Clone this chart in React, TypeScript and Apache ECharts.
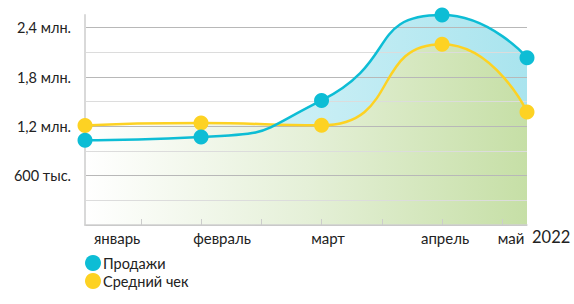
import React, { useEffect, useRef } from "react";
import * as echarts from "echarts";

const months = ["январь", "февраль", "март", "апрель", "май"];
const monthPos = [0.037, 1, 2, 3, 3.705];
const sales = [1030000, 1070000, 1515000, 2555000, 2035000];
const avgCheck = [1210000, 1240000, 1213000, 2200000, 1375000];
const xTickAt = [0.5, 1, 1.5, 2, 2.5, 3, 3.5];
const monthLabelAt = [0.303, 1.174, 2.054, 3.025, 3.572];
const yearLabel = "2022";
const seriesNames = ["Продажи", "Средний чек"];

const BLUE = "#0dbdd5";
const YELLOW = "#fdd223";
const FONT = "Lato, 'Noto Sans', sans-serif";
const SMOOTH = 0.6;

function yLabel(v: number): string {
  if (v <= 0 || Math.round(v) % 600000 !== 0) return "";
  if (v < 1000000) return Math.round(v / 1000) + " тыс.";
  return (v / 1000000).toFixed(1).replace(".", ",") + " млн.";
}

export default function App() {
  const ref = useRef<HTMLDivElement>(null);
  useEffect(() => {
    if (!ref.current) return;
    const chart = echarts.init(ref.current, null, { renderer: "svg" });
    const salesData = monthPos.map((x, i) => [x, sales[i]]);
    const avgData = monthPos.map((x, i) => [x, avgCheck[i]]);
    chart.setOption({
      animation: false,
      textStyle: { fontFamily: FONT },
      grid: { left: 85, right: 47, top: 15, bottom: 79, containLabel: false, outerBoundsMode: "none" },
      legend: {
        data: seriesNames,
        orient: "vertical",
        left: 80,
        top: 250,
        icon: "circle",
        itemWidth: 16,
        itemHeight: 16,
        itemGap: 2,
        textStyle: { fontSize: 14.5, color: "#222", fontFamily: FONT, padding: [0, 0, 0, -3] },
      },
      xAxis: {
        type: "value",
        min: monthPos[0],
        max: monthPos[monthPos.length - 1],
        name: yearLabel,
        nameLocation: "end",
        nameGap: 5,
        nameTextStyle: { fontSize: 16.5, color: "#222", verticalAlign: "top", padding: [3, 0, 0, 0], fontFamily: FONT },
        axisLine: { show: true, lineStyle: { color: "#cfcfcf", width: 1.5 } },
        axisTick: { show: true, inside: true, length: 6, customValues: xTickAt, lineStyle: { color: "#cccccc" } },
        axisLabel: {
          customValues: monthLabelAt,
          margin: 5,
          fontSize: 15,
          color: "#222",
          fontFamily: FONT,
          formatter: (v: number) => {
            const i = monthLabelAt.findIndex((p) => Math.abs(p - v) < 1e-6);
            return i >= 0 ? months[i] : "";
          },
        },
        splitLine: { show: false },
      },
      yAxis: {
        type: "value",
        min: 0,
        max: (e: any) => e.max,
        interval: 300000,
        axisLine: { show: true, lineStyle: { color: "#d9d9d9", width: 2 } },
        axisTick: { show: false },
        axisLabel: { margin: 14, fontSize: 14.5, color: "#222", fontFamily: FONT, formatter: yLabel, showMaxLabel: false },
        splitLine: { show: true, showMaxLine: false, lineStyle: { color: ["#b8b8b8", "#dcdcdc"], width: 1.2 } },
      },
      series: [
        {
          name: "_salesArea",
          type: "line",
          data: salesData,
          smooth: SMOOTH,
          symbol: "none",
          lineStyle: { width: 0 },
          clip: false,
          z: -2,
          areaStyle: {
            opacity: 1,
            color: new echarts.graphic.LinearGradient(0, 0, 1, 0, [
              { offset: 0, color: "#eaf9fc" },
              { offset: 1, color: "#a9e4ee" },
            ]),
          },
          silent: true,
        },
        {
          name: "_avgArea",
          type: "line",
          data: avgData,
          smooth: SMOOTH,
          symbol: "none",
          lineStyle: { width: 0 },
          clip: false,
          z: -1,
          areaStyle: {
            opacity: 1,
            color: new echarts.graphic.LinearGradient(0, 0, 1, 0, [
              { offset: 0, color: "#ffffff" },
              { offset: 0.5, color: "#e5f0d8" },
              { offset: 1, color: "#c6dfa6" },
            ]),
          },
          silent: true,
        },
        {
          name: seriesNames[0],
          type: "line",
          data: salesData,
          smooth: SMOOTH,
          symbol: "circle",
          symbolSize: 15,
          clip: false,
          z: 4,
          itemStyle: { color: BLUE },
          lineStyle: { color: BLUE, width: 2.5 },
        },
        {
          name: seriesNames[1],
          type: "line",
          data: avgData,
          smooth: SMOOTH,
          symbol: "circle",
          symbolSize: 15,
          clip: false,
          z: 3,
          itemStyle: { color: YELLOW },
          lineStyle: { color: YELLOW, width: 2.5 },
        },
      ],
    });
    return () => chart.dispose();
  }, []);
  return (
    <div
      ref={ref}
      style={{ position: "fixed", left: 0, top: 0, width: 574, height: 304, background: "#fff" }}
    />
  );
}
